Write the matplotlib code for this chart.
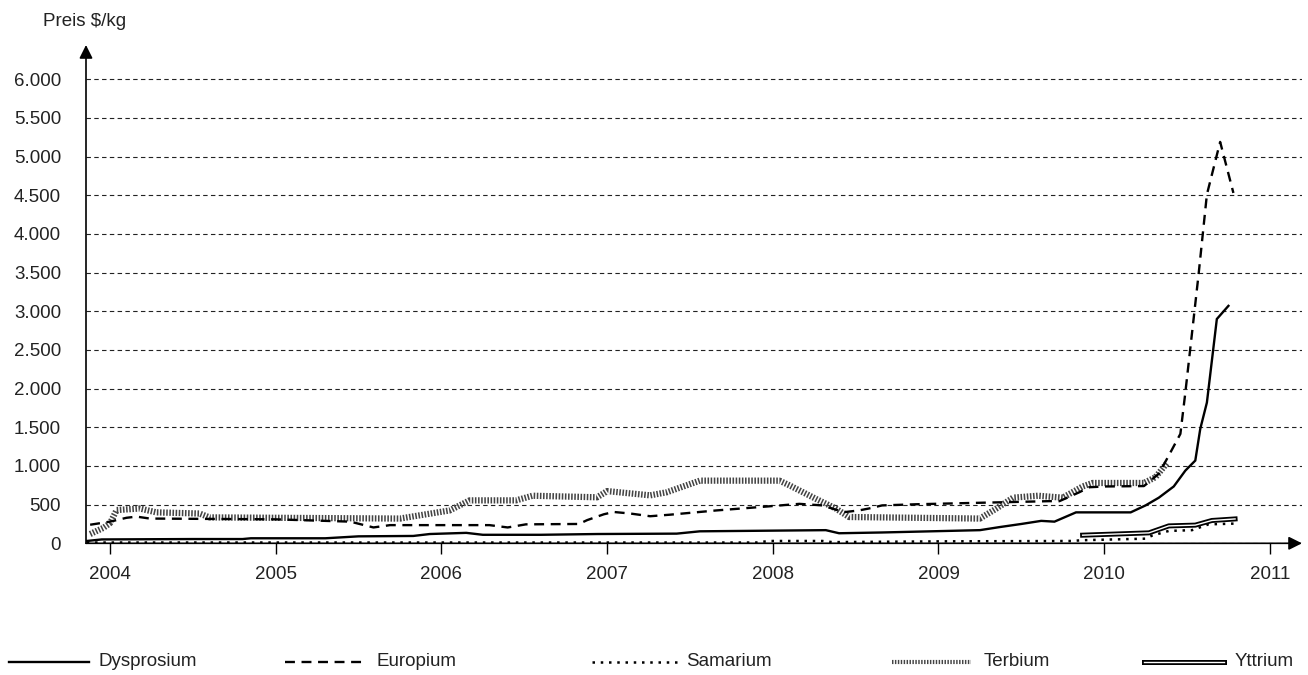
import matplotlib
matplotlib.use("Agg")
import matplotlib.pyplot as plt
from matplotlib.ticker import FuncFormatter

plt.rcParams['font.family'] = ['Liberation Sans', 'DejaVu Sans']

# prices in $/kg, time as decimal year
dy_t = [2003.86, 2003.95, 2004.5, 2004.8, 2004.85, 2005.3, 2005.5, 2005.83, 2005.93,
        2006.15, 2006.25, 2006.6, 2006.94, 2007.42, 2007.56, 2008.32, 2008.40, 2008.66,
        2009.25, 2009.37, 2009.5, 2009.62, 2009.7, 2009.83, 2010.16, 2010.25, 2010.33,
        2010.42, 2010.49, 2010.55, 2010.58, 2010.62, 2010.68, 2010.75]
dy_v = [30, 50, 55, 55, 65, 65, 90, 95, 120,
        135, 110, 110, 120, 125, 155, 170, 130, 140,
        170, 210, 250, 290, 280, 400, 400, 490, 590,
        735, 940, 1070, 1480, 1820, 2900, 3070]

eu_t = [2003.88, 2004.0, 2004.1, 2004.16, 2004.24, 2005.0, 2005.45, 2005.59, 2005.69,
        2006.29, 2006.40, 2006.51, 2006.83, 2006.88, 2006.98, 2007.04, 2007.14, 2007.26,
        2007.38, 2007.66, 2007.96, 2008.16, 2008.30, 2008.38, 2008.44, 2008.52, 2008.58,
        2008.66, 2008.87, 2009.07, 2009.37, 2009.67, 2009.73, 2009.85, 2009.91, 2010.01,
        2010.24, 2010.33, 2010.39, 2010.46, 2010.49, 2010.57, 2010.62, 2010.70, 2010.78]
eu_v = [240, 280, 330, 345, 320, 310, 280, 205, 235,
        235, 205, 245, 250, 300, 375, 405, 385, 350,
        370, 425, 475, 510, 490, 435, 405, 425, 450,
        490, 505, 515, 530, 545, 545, 660, 725, 735,
        740, 900, 1135, 1415, 1950, 3480, 4510, 5190, 4530]

sm_t = [2003.86, 2007.9, 2007.98, 2008.3, 2008.36, 2009.0, 2009.8, 2009.87, 2010.25,
        2010.29, 2010.39, 2010.53, 2010.63, 2010.79]
sm_v = [10, 10, 30, 30, 15, 25, 30, 40, 60,
        100, 160, 170, 245, 255]

tb_t = [2003.88, 2003.96, 2004.0, 2004.04, 2004.18, 2004.28, 2004.54, 2004.6, 2005.75,
        2006.05, 2006.17, 2006.45, 2006.55, 2006.94, 2007.0, 2007.26, 2007.36, 2007.56,
        2008.04, 2008.10, 2008.26, 2008.38, 2008.46, 2009.25, 2009.35, 2009.45, 2009.6,
        2009.75, 2009.87, 2009.93, 2010.24, 2010.31, 2010.38]
tb_v = [120, 200, 260, 430, 450, 400, 385, 335, 320,
        425, 555, 555, 615, 595, 675, 620, 660, 810,
        810, 750, 575, 450, 340, 320, 450, 590, 615,
        590, 735, 780, 780, 855, 1040]

y_t = [2009.87, 2010.27, 2010.39, 2010.55, 2010.65, 2010.79]
y_v = [105, 135, 225, 235, 295, 315]

years = [2004, 2005, 2006, 2007, 2008, 2009, 2010, 2011]
yticks = [0, 500, 1000, 1500, 2000, 2500, 3000, 3500, 4000, 4500, 5000, 5500, 6000]

FS = 13.5

fig = plt.figure(figsize=(13.08, 6.75), dpi=100)
ax = fig.add_axes([86 / 1308, 1 - 543.3 / 675, (1302 - 86) / 1308, (543.3 - 45) / 675])

# styles
tb_style = dict(color='#444444', lw=4.5, linestyle=(0, (0.25, 0.25)), dash_capstyle='butt')
eu_style = dict(color='black', lw=1.7, linestyle=(0, (4.2, 2.8)), dash_capstyle='butt')
sm_style = dict(color='black', lw=1.8, linestyle=(0, (1, 2.3)), dash_capstyle='butt')
dy_style = dict(color='black', lw=1.7, solid_joinstyle='miter')

ax.plot(tb_t, tb_v, **tb_style, zorder=3)
ax.plot(y_t, y_v, color='black', lw=3.6, zorder=4)
ax.plot(y_t, y_v, color='white', lw=1.0, zorder=4)
ax.plot(sm_t, sm_v, **sm_style, zorder=5)
ax.plot(eu_t, eu_v, **eu_style, zorder=6)
ax.plot(dy_t, dy_v, **dy_style, zorder=7)

ax.set_xlim(2003.855, 2011.194)
ax.set_ylim(0, 6443)

ax.set_yticks(yticks)
ax.yaxis.set_major_formatter(FuncFormatter(lambda v, p: '{:,.0f}'.format(v).replace(',', '.')))
ax.set_xticks(years)
ax.tick_params(axis='y', length=0, pad=18, labelsize=FS, labelcolor='#222222')
ax.tick_params(axis='x', length=8, width=1, direction='out', pad=8, labelsize=FS,
               labelcolor='#222222')

ax.yaxis.grid(True, color='#222222', lw=0.8, linestyle=(0, (4, 3)))
ax.set_axisbelow(True)

for s in ax.spines.values():
    s.set_visible(False)

# axes with arrow heads
ax.annotate('', xy=(0, 1), xytext=(0, 0), xycoords='axes fraction',
            arrowprops=dict(arrowstyle='-|>', color='black', lw=1.2, mutation_scale=20,
                            shrinkA=0, shrinkB=0))
ax.annotate('', xy=(1, 0), xytext=(0, 0), xycoords='axes fraction',
            arrowprops=dict(arrowstyle='-|>', color='black', lw=1.2, mutation_scale=20,
                            shrinkA=0, shrinkB=0))

fig.text(43 / 1308, 1 - 22 / 675, 'Preis $/kg', fontsize=FS, ha='left', va='center',
         color='#222222')

# legend drawn by hand across the bottom
leg = fig.add_axes([0, 0, 1, 30 / 675])
leg.set_xlim(0, 1308)
leg.set_ylim(675, 645)
leg.axis('off')

names = ['Dysprosium', 'Europium', 'Samarium', 'Terbium', 'Yttrium']
x0 = [9, 285, 592, 892, 1144]
x1 = [89, 362, 682, 971, 1224]
xt = [98, 376, 686, 984, 1235]
ly = 662
leg.plot([x0[0], x1[0]], [ly, ly], **dy_style)
leg.plot([x0[1], x1[1]], [ly, ly], **eu_style)
leg.plot([x0[2], x1[2]], [ly, ly], **sm_style)
leg.plot([x0[3], x1[3]], [ly, ly], color='#444444', lw=3, linestyle=(0, (0.35, 0.35)),
         dash_capstyle='butt')
leg.plot([x0[4], x1[4]], [ly, ly], color='black', lw=3.6)
leg.plot([x0[4], x1[4]], [ly, ly], color='white', lw=1.0)
for n, x in zip(names, xt):
    leg.text(x, ly, n, fontsize=FS, ha='left', va='center', color='#222222')

fig.savefig('out.png', dpi=100)
